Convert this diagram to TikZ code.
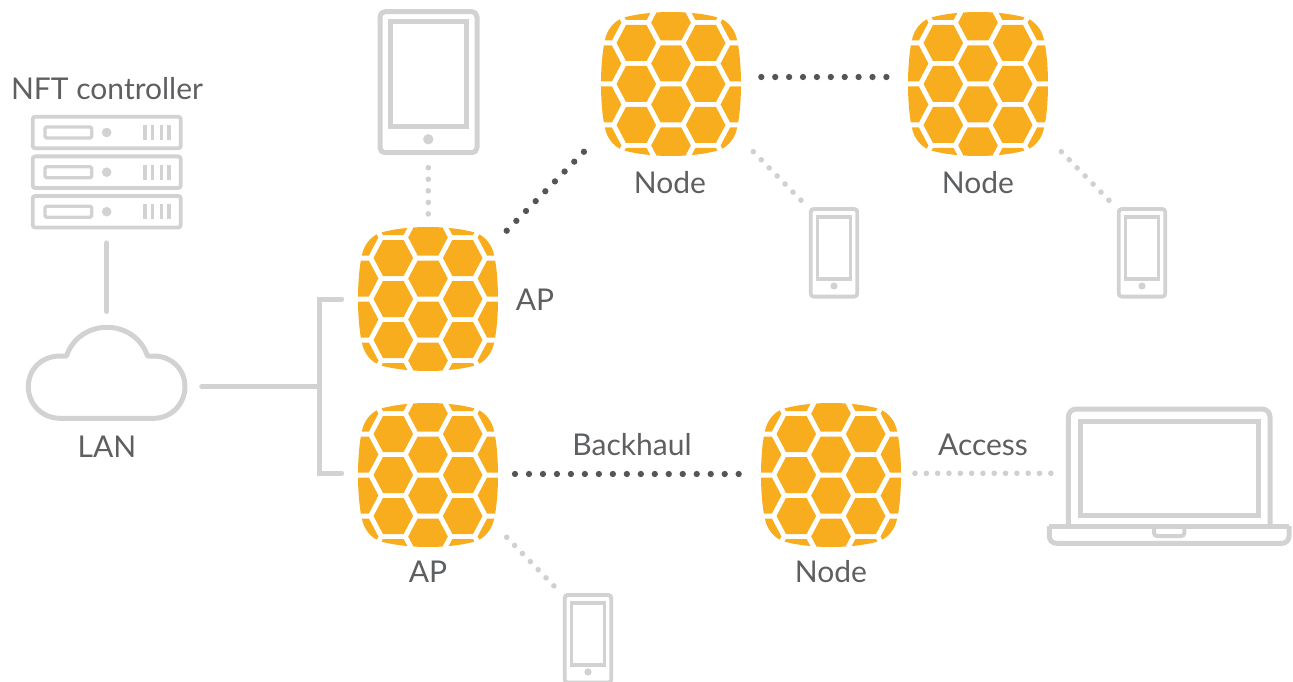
\documentclass[tikz,border=0pt]{standalone}
\usepackage{fontspec}
\setmainfont{Lato}
\usetikzlibrary{calc}
\definecolor{hiveorange}{HTML}{F8AD1E}
\definecolor{icongray}{HTML}{D2D2D2}
\definecolor{dotdark}{HTML}{555555}
\definecolor{dotlight}{HTML}{D0D0D0}
\definecolor{labelgray}{HTML}{5E5F61}
\tikzset{
  x=1pt,y=-1pt,
  icon/.style={draw=icongray,line width=3.8pt,rounded corners=2pt},
  iconbold/.style={draw=icongray,line width=5pt,line join=round},
  wire/.style={draw=icongray,line width=5pt,line cap=round,line join=miter},
  darkdots/.style={draw=dotdark,line width=6.3pt,line cap=round,dash pattern=on 0pt off #1},
  lightdots/.style={draw=dotlight,line width=5.6pt,line cap=round,dash pattern=on 0pt off #1},
  lbl/.style={text=labelgray,font=\fontsize{30}{32}\selectfont,inner sep=0pt},
  hivebox/.style={minimum width=140pt,minimum height=144pt,inner sep=0pt},
  hive/.pic={
    \begin{scope}
      \clip (0,-72) .. controls (-22,-72) and (-38,-69) .. (-47,-66.5)
        .. controls (-55,-64) and (-62,-57) .. (-65,-48)
        .. controls (-68,-38) and (-70,-20) .. (-70,0)
        .. controls (-70,20) and (-68,38) .. (-65,48)
        .. controls (-62,57) and (-55,64) .. (-47,66.5)
        .. controls (-38,69) and (-22,72) .. (0,72)
        .. controls (22,72) and (38,69) .. (47,66.5)
        .. controls (55,64) and (62,57) .. (65,48)
        .. controls (68,38) and (70,20) .. (70,0)
        .. controls (70,-20) and (68,-38) .. (65,-48)
        .. controls (62,-57) and (55,-64) .. (47,-66.5)
        .. controls (38,-69) and (22,-72) .. (0,-72) -- cycle;
      \foreach \cx/\cy in {0/-61.5,0/-20.5,0/20.5,0/61.5,
          -34.7/-82,-34.7/-41,-34.7/0,-34.7/41,-34.7/82,
          34.7/-82,34.7/-41,34.7/0,34.7/41,34.7/82,
          -69.4/-61.5,-69.4/-20.5,-69.4/20.5,-69.4/61.5,
          69.4/-61.5,69.4/-20.5,69.4/20.5,69.4/61.5}{
        \fill[hiveorange] (\cx-19.8,\cy) -- (\cx-10.3,\cy-18) -- (\cx+10.3,\cy-18)
          -- (\cx+19.8,\cy) -- (\cx+10.3,\cy+18) -- (\cx-10.3,\cy+18) -- cycle;
      }
    \end{scope}
  },
  phone/.pic={
    \draw[icon,rounded corners=3pt] (-23.3,-43.8) rectangle (23.3,43.8);
    \draw[draw=icongray,line width=3.8pt] (-16.5,-35.5) rectangle (16.5,26.5);
    \fill[icongray] (0,33.2) circle (3.6);
  },
  serverunit/.pic={
    \draw[icon,rounded corners=2.5pt] (-74,-15.8) rectangle (74,15.8);
    \draw[icon,line width=3.4pt,rounded corners=1.5pt] (-61.7,-5.5) rectangle (-15,5.5);
    \fill[icongray] (0,0) circle (4.8);
    \foreach \bx in {38.3,45.6,54.6,62.3}
      \draw[draw=icongray,line width=3.2pt] (\bx,-7.5) -- (\bx,7.5);
  }
}
\begin{document}
\begin{tikzpicture}
\useasboundingbox (0,0) rectangle (1293,682);

% hive nodes
\node[hivebox] (apone) at (428,299) {};
\node[hivebox] (aptwo) at (428,475) {};
\node[hivebox] (nodeone) at (671,84) {};
\node[hivebox] (nodetwo) at (978,84) {};
\node[hivebox] (nodethree) at (831,475) {};
\foreach \h in {apone,aptwo,nodeone,nodetwo,nodethree}
  \pic at (\h) {hive};

% server
\node[minimum width=148pt,minimum height=111pt,inner sep=0pt] (server) at (106.7,172.2) {};
\pic at (106.7,132.5) {serverunit};
\pic at (106.7,172.2) {serverunit};
\pic at (106.7,211.7) {serverunit};

% cloud
\node[minimum width=157pt,minimum height=91pt,inner sep=0pt] (cloud) at (106.7,372.8) {};
\draw[iconbold] (60,418.3) .. controls (42,418.3) and (28.3,404) .. (28.3,386.7)
  .. controls (28.3,369) and (42,356) .. (60,356) -- (66.5,356)
  .. controls (72,339) and (88,327.3) .. (107,327.3)
  .. controls (126,327.3) and (142,339) .. (147.5,356) -- (154,356)
  .. controls (171,356) and (185,369) .. (185,386.7)
  .. controls (185,404) and (171,418.3) .. (154,418.3) -- cycle;

% tablet
\node[minimum width=97pt,minimum height=141pt,inner sep=0pt] (tablet) at (428.5,82.2) {};
\draw[iconbold,rounded corners=5pt] (380,11.7) rectangle (477,152.7);
\draw[draw=icongray,line width=5pt] (390.7,21.7) rectangle (466.7,126.7);
\fill[icongray] (428.3,139.3) circle (5.2);

% phones
\node[minimum width=47pt,minimum height=88pt,inner sep=0pt] (phoneone) at (834,252.8) {};
\node[minimum width=47pt,minimum height=88pt,inner sep=0pt] (phonetwo) at (1142,252.8) {};
\node[minimum width=47pt,minimum height=88pt,inner sep=0pt] (phonethree) at (588,638.8) {};
\pic at (phoneone) {phone};
\pic at (phonetwo) {phone};
\pic at (phonethree) {phone};

% laptop
\node[minimum width=240pt,minimum height=135pt,inner sep=0pt] (laptop) at (1169,476) {};
\draw[iconbold,rounded corners=8pt] (1068.3,526) -- (1068.3,409) -- (1270,409) -- (1270,526);
\draw[draw=icongray,line width=5pt] (1080.7,421.7) rectangle (1258.3,515);
\draw[iconbold,rounded corners=7pt] (1049.3,526) -- (1049.3,543.3) -- (1289,543.3) -- (1289,526);
\draw[draw=icongray,line width=5pt] (1049.3,526) -- (1289,526);
\draw[draw=icongray,line width=4pt,rounded corners=3pt] (1154,526) -- (1154,536) -- (1184.3,536) -- (1184.3,526);

% connector end points
\coordinate (lanport) at (201.7,386.7);
\coordinate (busjoint) at (319.3,386.7);
\coordinate (apport) at (341.7,299);
\coordinate (aptwoport) at (341.7,473.3);
\coordinate (busup) at (319.3,299);
\coordinate (busdown) at (319.3,473.3);
\coordinate (diagA) at (506.7,230.7);
\coordinate (diagB) at (584,151.7);
\coordinate (topA) at (761.3,77);
\coordinate (topB) at (886.7,77);
\coordinate (npA) at (753.3,151.7);
\coordinate (npB) at (801,200.3);
\coordinate (nqA) at (1061.3,151.7);
\coordinate (nqB) at (1109,200.3);
\coordinate (bhA) at (515,474);
\coordinate (bhB) at (739,474);
\coordinate (acA) at (915,473.3);
\coordinate (acB) at (1051,473.3);
\coordinate (tabA) at (428.3,167.7);
\coordinate (tabB) at (428.3,214);
\coordinate (apqA) at (506.7,537.3);
\coordinate (apqB) at (554,586);

% solid connectors
\draw[wire,shorten <=15pt,shorten >=15.6pt] (server.south) -- (cloud.north);
\draw[wire] (lanport) -- (busjoint);
\draw[wire] (apport) -- (busup) -- (busdown) -- (aptwoport);

% dotted connectors
\draw[darkdots=13.8pt] (diagA) -- (diagB);
\draw[darkdots=13.9pt] (topA) -- (topB);
\draw[darkdots=13.98pt] (bhA) -- (bhB);
\draw[lightdots=11.32pt] (acA) -- (acB);
\draw[lightdots=11.33pt] (npA) -- (npB);
\draw[lightdots=11.33pt] (nqA) -- (nqB);
\draw[lightdots=11.55pt] (tabA) -- (tabB);
\draw[lightdots=11.29pt] (apqA) -- (apqB);

% labels
\node[lbl] (nftlabel) at (107,89) {NFT controller};
\node[lbl] (lanlabel) at (107,447) {LAN};
\node[lbl] (aplabelone) at (535,300) {AP};
\node[lbl] (aplabeltwo) at (428,572) {AP};
\node[lbl] (nodelabelone) at (670,183) {Node};
\node[lbl] (nodelabeltwo) at (978,183) {Node};
\node[lbl] (nodelabelthree) at (831,572) {Node};
\node[lbl] (backhaul) at (632,445) {Backhaul};
\node[lbl] (access) at (983,445) {Access};
\end{tikzpicture}
\end{document}
